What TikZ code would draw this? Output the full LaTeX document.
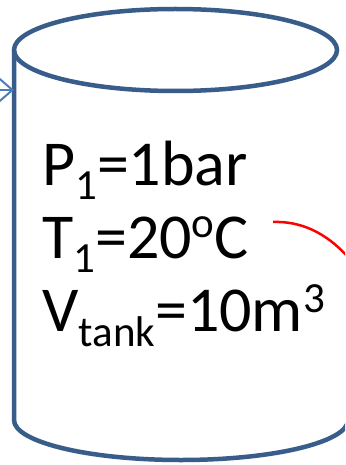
\documentclass[tikz,border=0pt]{standalone}
\usepackage{fontspec}
\setmainfont{Carlito}
\usepackage{tikz}
\usetikzlibrary{arrows.meta,positioning,calc}
\definecolor{TankBlue}{HTML}{385D8A}
\definecolor{PipeBlue}{HTML}{4A7EBB}

\newcommand{\subtxt}[2]{\raisebox{-#1pt}{\fontsize{43}{43}\selectfont #2}}
\newcommand{\suptxt}[2]{\raisebox{#1pt}{\fontsize{43}{43}\selectfont #2}}

\begin{document}
\begin{tikzpicture}[
  x=1pt, y=-1pt,
  tankline/.style={draw=TankBlue, line width=4.5pt},
  inarrow/.style={-{Straight Barb[length=15pt,width=26pt]}, draw=PipeBlue, line width=2pt},
  heatline/.style={draw=red, line width=2.5pt},
  tanktext/.style={anchor=base west, inner sep=0pt, font=\fontsize{64}{73}\selectfont}
]
\useasboundingbox[fill=white] (0,0) rectangle (345,465);
\clip (0,0) rectangle (345,465);

% --- Tank body
\draw[tankline] (14,50) -- (14,420)
  arc[start angle=180, end angle=0, x radius=167, y radius=40] -- (348,50);
\draw[tankline] (175.5,50) ellipse [x radius=161.5, y radius=41];

% --- Tank state
\node[tanktext] (pline) at (42,185) {P\subtxt{14}{1}=1bar};
\node[tanktext] (tline) at (42,258) {T\subtxt{14}{1}=20\suptxt{21}{o}C};
\node[tanktext] (vline) at (42,331) {V\subtxt{15}{tank}=10m\suptxt{19}{3}};

% --- Inlet and heat
\coordinate (inflow) at (-20,90);
\coordinate (inlet)  at (14,90);
\draw[inarrow] (inflow) -- (inlet);

\coordinate (heatstart) at (273,222);
\coordinate (heatend)   at (347,256);
\draw[heatline] (heatstart) .. controls (300,221) and (325,232) .. (heatend);

\end{tikzpicture}
\end{document}
